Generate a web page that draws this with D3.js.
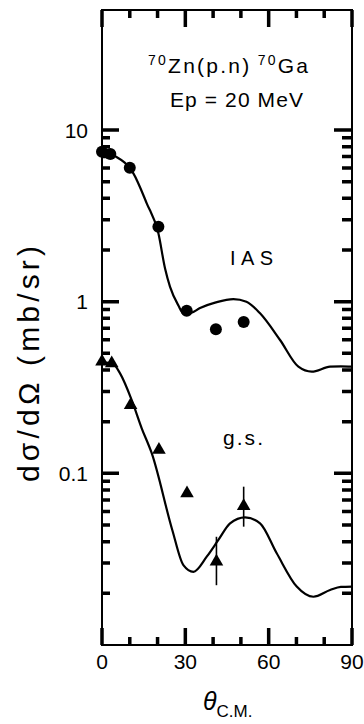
<!DOCTYPE html>
<html>
<head>
<meta charset="utf-8">
<script src="https://cdn.jsdelivr.net/npm/d3@7"></script>
<style>
  body { margin: 0; background: #fff; }
  text { font-family: "Liberation Sans", Arial, sans-serif; fill: #000; }
</style>
</head>
<body>
<div id="chart"></div>
<script>
// measured points, IAS (circles)
const iasAngle = [0, 3, 10, 20.3, 30.5, 41, 51];
const iasValue = [7.46, 7.24, 6.02, 2.73, 0.885, 0.69, 0.761];

// g.s. (triangles)
const gsAngle = [0, 3.5, 10.3, 20.5, 30.6, 41.2, 51];
const gsValue = [0.447, 0.437, 0.25, 0.137, 0.0764, 0.0306, 0.0645];
// error bars for g.s.
const gsErrAngle = [41.2, 51];
const gsErrLow = [0.0223, 0.0489];
const gsErrHigh = [0.0427, 0.0836];

// calculated curves
const iasCurveAngle = [0, 4.1, 11.3, 16.1, 20.3, 22.7, 24.5, 27.5, 29.3, 32, 35.3, 41, 47.3, 52, 56.9, 64.1, 70.7, 75.5, 82.1, 86, 90];
const iasCurveValue = [7.64, 7.14, 5.59, 3.74, 2.5, 1.56, 1.22, 0.95, 0.855, 0.86, 0.918, 0.99, 1.035, 1.0, 0.855, 0.598, 0.418, 0.391, 0.418, 0.42, 0.418];

const gsCurveAngle = [0, 4, 6.5, 10.7, 14.3, 17.9, 25.3, 29.3, 32.9, 37.7, 41.9, 46.1, 51.5, 56.9, 62.9, 70.1, 76.1, 82.1, 86, 90];
const gsCurveValue = [0.445, 0.433, 0.382, 0.267, 0.183, 0.131, 0.0468, 0.0292, 0.0267, 0.0327, 0.0409, 0.0511, 0.0554, 0.0511, 0.0342, 0.0219, 0.0191, 0.0209, 0.0218, 0.0219];

const xMajor = [0, 30, 60, 90];
const xMinor = [10, 20, 40, 50, 70, 80];
const yMajor = [0.1, 1, 10];
const yMajorLabels = ["0.1", "1", "10"];

let width = 364, height = 724;
let margin = { top: 10, right: 12, bottom: 79, left: 102 };

let svg = d3.select('#chart').append('svg')
  .attr('width', width)
  .attr('height', height);

let xScale = d3.scaleLinear()
  .domain([0, 90])
  .range([margin.left, width - margin.right]);

let yScale = d3.scaleLog()
  .domain([0.01, 50])
  .range([height - margin.bottom, margin.top]);

// log minor ticks 2..9 in each decade below 10
let yMinor = [];
[0.01, 0.1, 1].forEach(dec => {
  for (let k = 2; k <= 9; k++) yMinor.push(dec * k);
});

const frameL = margin.left, frameR = width - margin.right;
const frameB = height - margin.bottom, frameT = margin.top;

// frame
svg.append('rect')
  .attr('x', frameL)
  .attr('y', frameT)
  .attr('width', frameR - frameL)
  .attr('height', frameB - frameT)
  .attr('fill', 'none')
  .attr('stroke', '#000')
  .attr('stroke-width', 2);

// inward ticks on all four sides, collected into one path
let tp = d3.path();
function tick(xa, xb, ya, yb) {
  tp.moveTo(xa, ya);
  tp.lineTo(xb, yb);
}
yMajor.forEach(v => {
  tick(frameL, frameL + 17, yScale(v), yScale(v));
  tick(frameR, frameR - 18, yScale(v), yScale(v));
});
yMinor.forEach(v => {
  tick(frameL, frameL + 8, yScale(v), yScale(v));
  tick(frameR, frameR - 10, yScale(v), yScale(v));
});
xMajor.forEach(v => {
  tick(xScale(v), xScale(v), frameB, frameB - 17);
  tick(xScale(v), xScale(v), frameT, frameT + 17);
});
xMinor.forEach(v => {
  tick(xScale(v), xScale(v), frameB, frameB - 8);
  tick(xScale(v), xScale(v), frameT, frameT + 8);
});
svg.append('path')
  .attr('d', tp.toString())
  .attr('fill', 'none')
  .attr('stroke', '#000')
  .attr('stroke-width', 3.5);

// tick labels
yMajor.forEach((v, i) => {
  svg.append('text')
    .attr('x', margin.left - 14)
    .attr('y', yScale(v))
    .attr('dy', '0.36em')
    .attr('text-anchor', 'end')
    .attr('font-size', 21)
    .text(yMajorLabels[i]);
});
xMajor.forEach(v => {
  svg.append('text')
    .attr('x', xScale(v))
    .attr('y', height - margin.bottom + 24)
    .attr('text-anchor', 'middle')
    .attr('font-size', 21)
    .text(v);
});

// axis titles
svg.append('text')
  .attr('transform', `translate(39,364) rotate(-90)`)
  .attr('text-anchor', 'middle')
  .attr('font-size', 30)
  .attr('textLength', 236)
  .attr('lengthAdjust', 'spacing')
  .text('dσ/dΩ (mb/sr)');

let xt = svg.append('text')
  .attr('x', 203)
  .attr('y', 710);
xt.append('tspan').attr('font-size', 25).attr('font-style', 'italic').text('θ');
xt.append('tspan').attr('font-size', 17).attr('dy', 7).text('C.M.');

// annotations
let t1 = svg.append('text')
  .attr('x', 148)
  .attr('y', 73)
  .attr('font-size', 21)
  .attr('textLength', 160)
  .attr('lengthAdjust', 'spacing');
t1.append('tspan').attr('font-size', 14).attr('dy', -8).text('70');
t1.append('tspan').attr('dy', 8).text('Zn(p.n)');
t1.append('tspan').attr('font-size', 14).attr('dy', -8).text(' 70');
t1.append('tspan').attr('dy', 8).text('Ga');

svg.append('text')
  .attr('x', 170)
  .attr('y', 107)
  .attr('font-size', 21)
  .attr('textLength', 133)
  .attr('lengthAdjust', 'spacing')
  .text('Ep = 20 MeV');

svg.append('text')
  .attr('x', 230)
  .attr('y', 265)
  .attr('font-size', 20)
  .attr('textLength', 43)
  .attr('lengthAdjust', 'spacing')
  .text('IAS');

svg.append('text')
  .attr('x', 223)
  .attr('y', 445)
  .attr('font-size', 21)
  .attr('textLength', 40)
  .attr('lengthAdjust', 'spacing')
  .text('g.s.');

// curves
let line = d3.line()
  .x(d => xScale(d[0]))
  .y(d => yScale(d[1]))
  .curve(d3.curveMonotoneX);

svg.append('path')
  .datum(iasCurveAngle.map((a, i) => [a, iasCurveValue[i]]))
  .attr('d', line)
  .attr('fill', 'none')
  .attr('stroke', '#000')
  .attr('stroke-width', 2.2);

svg.append('path')
  .datum(gsCurveAngle.map((a, i) => [a, gsCurveValue[i]]))
  .attr('d', line)
  .attr('fill', 'none')
  .attr('stroke', '#000')
  .attr('stroke-width', 2.2);

// error bars
gsErrAngle.forEach((a, i) => {
  svg.append('line')
    .attr('x1', xScale(a)).attr('x2', xScale(a))
    .attr('y1', yScale(gsErrLow[i])).attr('y2', yScale(gsErrHigh[i]))
    .attr('stroke', '#000')
    .attr('stroke-width', 1.6);
});

// IAS points
svg.selectAll('circle.ias')
  .data(iasAngle.map((a, i) => [a, iasValue[i]]))
  .enter()
  .append('circle')
  .attr('cx', d => xScale(d[0]))
  .attr('cy', d => yScale(d[1]))
  .attr('r', 6)
  .attr('fill', '#000');

// g.s. points
let tri = d3.symbol().type(d3.symbolTriangle).size(80);
svg.selectAll('path.gs')
  .data(gsAngle.map((a, i) => [a, gsValue[i]]))
  .enter()
  .append('path')
  .attr('d', tri)
  .attr('transform', d => `translate(${xScale(d[0])},${yScale(d[1])})`)
  .attr('fill', '#000');
</script>
</body>
</html>
